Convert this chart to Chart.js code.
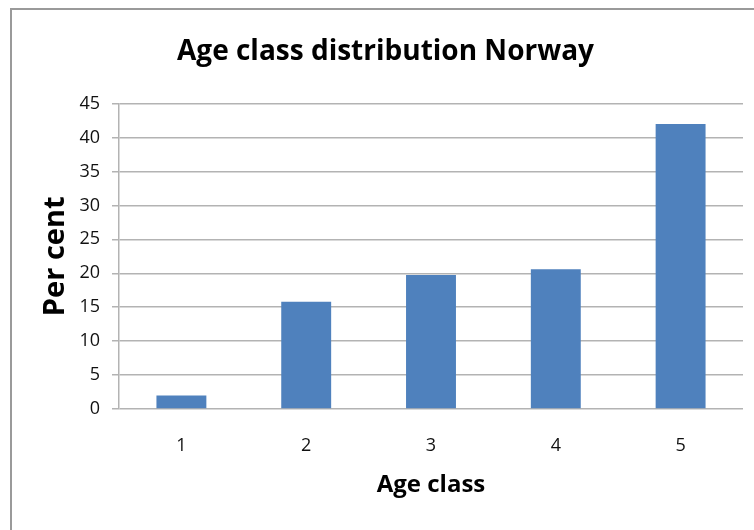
<!DOCTYPE html>
<html>
<head>
<meta charset="utf-8">
<script src="https://cdn.jsdelivr.net/npm/chart.js@4"></script>
<style>
  body { margin: 0; background: #fff; }
  #wrap { position: relative; width: 754px; height: 530px; overflow: hidden; }
  #frame { position: absolute; left: 10px; top: 8px; width: 800px; height: 600px; border: 2px solid #9a9a9a; }
  #grafico { position: absolute; left: 0; top: 0; }
</style>
</head>
<body>
<div id="wrap">
  <div id="frame"></div>
  <canvas id="grafico" width="754" height="530"></canvas>
</div>
<script>
const ageClasses = ["1", "2", "3", "4", "5"];
const perCent = [2.0, 15.8, 19.75, 20.6, 42.0];
const yTicks = [0, 5, 10, 15, 20, 25, 30, 35, 40, 45];

const fontName = "'Open Sans', sans-serif";

new Chart("grafico", {
  type: "bar",
  data: {
    labels: ageClasses,
    datasets: [{
      backgroundColor: "#4f81bd",
      data: perCent,
      categoryPercentage: 1.0,
      barPercentage: 0.4
    }]
  },
  options: {
    responsive: false,
    animation: false,
    // left padding shifts the title centre to match the original
    layout: { padding: { left: 28, right: 11, top: 0, bottom: 0 } },
    plugins: {
      legend: { display: false },
      tooltip: { enabled: false },
      title: {
        display: true,
        text: "Age class distribution Norway",
        color: "#000",
        font: { family: fontName, size: 28, weight: "bold", lineHeight: 1.2 },
        padding: { top: 35, bottom: 35 }
      }
    },
    scales: {
      x: {
        grid: { display: false },
        border: { display: false },
        ticks: { color: "#111", font: { family: fontName, size: 18 }, padding: 18 },
        title: {
          display: true,
          text: "Age class",
          color: "#000",
          font: { family: fontName, size: 24, weight: "bold", lineHeight: 1.2 },
          padding: { top: 0, bottom: 30 }
        },
        afterFit: function(scale) { scale.height = 121; }
      },
      y: {
        min: 0,
        max: 45,
        afterBuildTicks: function(scale) { scale.ticks = yTicks.map(v => ({ value: v })); },
        grid: { color: "#b3b3b3", lineWidth: 1.5, tickLength: 7 },
        border: { color: "#b3b3b3", width: 1.5 },
        ticks: { color: "#111", font: { family: fontName, size: 18 }, padding: 12 },
        title: {
          display: true,
          text: "Per cent",
          color: "#000",
          font: { family: fontName, size: 29, weight: "bold", lineHeight: 1.2 },
          padding: { top: 10, bottom: 0 }
        },
        afterFit: function(scale) { scale.width = 91; }
      }
    }
  }
});
</script>
</body>
</html>
